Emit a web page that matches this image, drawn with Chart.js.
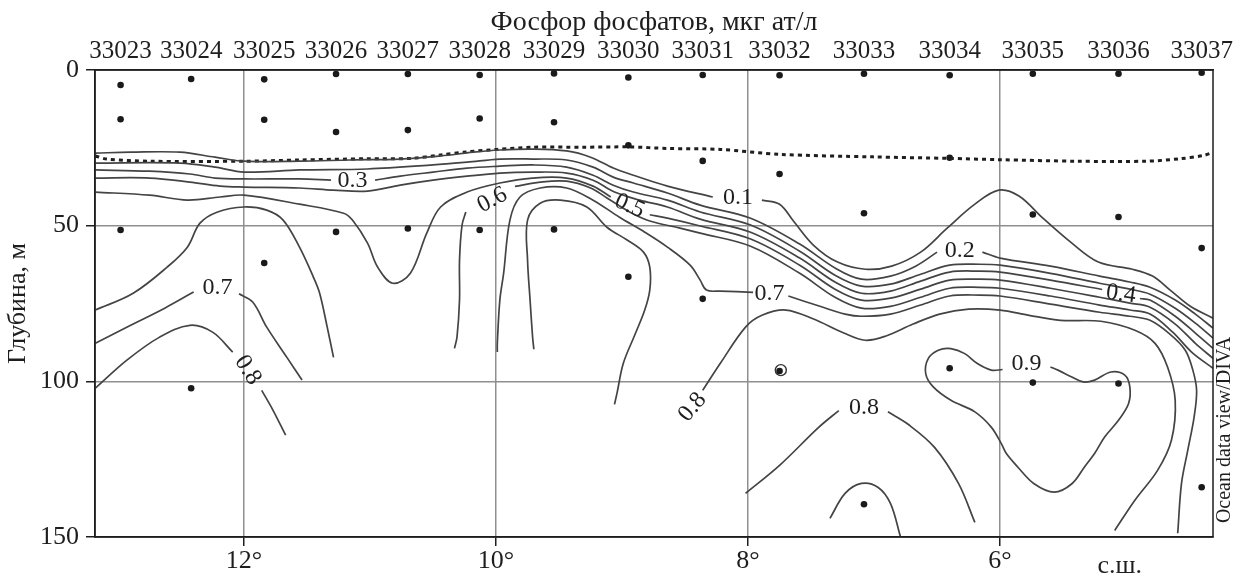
<!DOCTYPE html>
<html>
<head>
<meta charset="utf-8">
<title>Фосфор фосфатов</title>
<script src="https://cdn.jsdelivr.net/npm/chart.js@4.4.1/dist/chart.umd.min.js"></script>
<style>
  body { margin: 0; background: #fff; }
  #wrap { width: 1238px; height: 578px; }
</style>
</head>
<body>
<div id="wrap"><canvas id="section" width="1238" height="578"></canvas></div>
<script>
  // stations along the section (top axis) and sampling depths, m
  const stationNames = ['33023','33024','33025','33026','33027','33028','33029','33030','33031','33032','33033','33034','33035','33036','33037'];
  const stationLat = [12.98, 12.42, 11.84, 11.27, 10.70, 10.13, 9.54, 8.95, 8.36, 7.75, 7.08, 6.40, 5.74, 5.06, 4.40];
  const sampleDepth = [[4.8,15.8,51.4],[2.9,102.2],[3.0,16.0,62.0],[1.3,19.9,52.0],[1.3,19.3,50.9],[1.6,15.6,51.4],[1.1,16.8,51.2],[2.4,24.2,66.4],[1.6,29.2,73.5],[1.7,33.4,96.7],[1.2,46.0,139.5],[1.7,28.2,95.8],[1.2,46.4,100.4],[1.2,47.2,100.7],[0.9,57.2,134.0]];

  const latTicks = [12, 10, 8, 6];
  const depthTicks = [0, 50, 100, 150];

  // dotted line (upper mixed layer), [lat, depth]
  const mixedLayer = [[13.18,27.6],[13.09,28.6],[12.75,29.3],[12.00,29.3],[11.56,28.9],[11.02,28.5],[10.68,28.4],[10.44,27.3],[10.23,26.3],[9.99,25.5],[9.71,24.8],[9.31,24.8],[8.94,24.7],[8.64,25.2],[8.22,25.5],[7.75,27.1],[7.01,27.9],[6.40,28.4],[6.01,28.8],[5.39,29.3],[4.84,29.3],[4.57,28.5],[4.38,27.4],[4.31,26.4]];

  // isolines, [lat, depth]; split where a label sits on the line
  const iso01a = [[13.18,26.7],[12.90,26.4],[12.51,26.4],[12.23,28.0],[12.00,29.3],[11.56,29.3],[11.16,28.9],[10.76,28.6],[10.44,27.6],[10.18,26.4],[9.97,25.7],[9.71,25.4],[9.44,26.0],[9.25,28.0],[9.07,31.5],[8.91,33.8],[8.64,37.3],[8.28,40.8]];
  const iso01b = [[7.89,41.8],[7.75,43.1],[7.64,48.5],[7.48,56.3],[7.29,61.7],[7.07,64.0],[6.86,63.0],[6.63,58.5],[6.42,50.8],[6.20,43.1],[6.01,38.6],[5.85,40.5],[5.66,47.6],[5.44,55.3],[5.22,61.7],[4.95,64.0],[4.79,66.2],[4.65,70.7],[4.49,75.9],[4.31,79.7]];
  const iso02a = [[13.18,29.9],[12.51,29.9],[12.23,31.2],[12.00,32.8],[11.56,32.1],[11.02,31.8],[10.50,30.5],[10.23,29.6],[9.97,28.6],[9.71,28.6],[9.44,28.9],[9.23,31.2],[9.07,34.4],[8.91,36.3],[8.64,39.5],[8.38,43.4],[7.98,47.6],[7.59,55.9],[7.31,63.6],[7.10,67.2],[6.87,66.2],[6.67,63.0],[6.50,58.5]];
  const iso02b = [[6.14,58.5],[6.00,60.4],[5.60,63.0],[5.21,66.2],[4.97,68.1],[4.81,69.8],[4.61,73.9],[4.45,78.4],[4.31,82.9]];
  const iso03a = [[13.18,32.1],[12.75,32.5],[12.43,33.4],[12.23,34.7],[12.00,35.0],[11.56,35.0],[11.31,35.4]];
  const iso03b = [[10.96,35.4],[10.76,34.1],[10.50,32.8],[10.23,31.5],[9.97,30.9],[9.71,30.5],[9.44,31.2],[9.23,33.8],[9.07,37.0],[8.91,39.2],[8.64,41.8],[8.38,45.6],[7.98,49.8],[7.59,58.2],[7.31,65.9],[7.10,69.4],[6.87,68.8],[6.63,65.6],[6.40,62.7],[6.16,62.4],[6.00,62.7],[5.60,65.3],[5.21,68.5],[4.97,70.4],[4.81,72.0],[4.61,76.5],[4.45,81.3],[4.31,86.1]];
  const iso04a = [[13.18,34.7],[12.75,34.7],[12.43,36.0],[12.19,37.3],[12.00,37.6],[11.56,37.9],[11.29,38.6],[11.02,38.9],[10.76,37.0],[10.50,35.4],[10.23,34.1],[9.97,33.1],[9.71,32.8],[9.44,33.1],[9.23,35.4],[9.06,39.2],[8.86,41.8],[8.64,44.0],[8.38,47.9],[7.98,52.1],[7.59,60.4],[7.31,68.1],[7.10,71.7],[6.87,71.0],[6.63,67.8],[6.40,64.9],[6.16,64.6],[6.00,64.9],[5.60,67.5],[5.19,70.5]];
  const iso04b = [[4.89,73.4],[4.81,73.9],[4.61,79.1],[4.45,84.5],[4.31,89.4]];
  const iso05a = [[13.18,39.2],[12.75,40.2],[12.45,41.8],[12.19,40.8],[12.00,40.2],[11.56,43.1],[11.21,46.0],[11.14,48.2],[11.02,55.6],[10.94,63.3],[10.82,68.5],[10.68,65.3],[10.55,52.4],[10.44,44.0],[10.23,39.2],[9.97,36.3],[9.71,34.7],[9.44,34.7],[9.23,37.3],[9.09,40.8]];
  const iso05b = [[8.78,46.5],[8.64,47.6],[8.38,50.1],[7.98,54.3],[7.59,62.7],[7.31,70.4],[7.10,73.9],[6.87,73.3],[6.63,70.4],[6.40,67.5],[6.16,67.2],[6.00,67.5],[5.60,70.1],[5.21,73.0],[4.97,74.9],[4.81,76.2],[4.61,81.6],[4.45,87.8],[4.31,92.6]];
  const iso06dome = [[13.18,77.1],[12.88,71.7],[12.61,63.3],[12.45,56.9],[12.35,49.2],[12.21,45.6],[12.00,44.0],[11.82,45.0],[11.69,48.2],[11.56,56.9],[11.45,66.5],[11.40,71.7],[11.34,82.6],[11.29,92.3]];
  const iso06a = [[10.33,89.4],[10.31,85.8],[10.29,73.9],[10.29,61.1],[10.27,49.8],[10.24,45.6]];
  const iso06b = [[9.85,37.4],[9.65,36.0],[9.44,35.7],[9.25,37.9],[9.12,41.1],[8.94,45.6],[8.78,48.5],[8.54,50.8],[8.38,52.4],[7.98,56.6],[7.59,65.3],[7.31,73.0],[7.10,76.5],[6.87,75.9],[6.63,73.0],[6.40,70.1],[6.16,69.8],[6.00,70.1],[5.60,72.6],[5.21,75.5],[4.97,77.1],[4.81,78.4],[4.63,84.2],[4.48,90.6],[4.31,95.8]];
  const iso07La = [[13.18,87.8],[12.90,82.0],[12.63,76.5],[12.40,71.3]];
  const iso07Lb = [[12.04,71.9],[11.93,74.6],[11.82,82.6],[11.66,92.3],[11.54,99.6]];
  const iso07a = [[9.99,90.6],[9.99,87.8],[9.97,73.9],[9.94,65.3],[9.89,48.2],[9.81,40.8],[9.65,37.9],[9.44,37.9],[9.23,41.8],[9.02,47.3],[8.82,52.1],[8.64,56.9],[8.46,62.7],[8.38,67.5],[8.33,70.7],[8.22,71.0],[7.96,71.4]];
  const iso07b = [[7.68,72.6],[7.43,75.9],[7.23,78.4],[7.10,79.1],[6.87,78.4],[6.63,75.5],[6.40,72.6],[6.16,72.3],[6.00,72.6],[5.60,75.2],[5.21,77.8],[4.97,79.1],[4.81,80.4],[4.65,84.9],[4.53,90.0],[4.47,96.4],[4.44,102.9],[4.46,111.5],[4.51,122.1],[4.56,132.8],[4.59,148.8]];
  const iso08La = [[13.18,102.2],[12.93,93.2],[12.67,85.8],[12.43,82.0],[12.25,84.2],[12.09,90.6]];
  const iso08Lb = [[11.86,102.9],[11.77,109.3],[11.67,117.3]];
  const iso08arch = [[9.70,89.7],[9.71,85.8],[9.73,73.9],[9.75,61.1],[9.75,48.2],[9.65,42.8],[9.49,41.8],[9.28,44.0],[9.12,50.5],[8.96,54.6],[8.83,58.5],[8.78,63.3],[8.78,70.7],[8.82,77.1],[8.90,85.2],[8.99,94.2],[9.04,103.8],[9.06,107.4]];
  const iso08main = [[8.36,102.9],[8.22,94.2],[8.02,82.6],[7.89,78.8],[7.70,77.1],[7.48,80.0],[7.24,84.5],[7.07,86.8],[6.91,85.5],[6.69,81.6],[6.48,78.4],[6.25,76.8],[6.00,77.1],[5.77,78.8],[5.52,80.4],[5.20,80.7],[4.93,83.6],[4.77,87.8],[4.67,95.5],[4.61,106.1],[4.64,118.9],[4.75,128.6],[4.93,138.2],[5.09,147.9]];
  const iso08botA = [[8.02,136.0],[7.75,127.0],[7.44,114.8],[7.28,109.4]];
  const iso08botB = [[6.89,109.8],[6.73,113.8],[6.52,121.2],[6.33,132.8],[6.20,145.3]];
  const iso08cap = [[7.35,144.0],[7.23,136.0],[7.10,132.8],[6.97,134.0],[6.87,139.2],[6.79,150.0]];
  const iso09 = [[5.98,96.2],[6.07,96.4],[6.18,94.3],[6.28,91.1],[6.39,89.5],[6.49,90.0],[6.57,92.7],[6.59,97.5],[6.53,101.8],[6.39,106.1],[6.20,109.8],[6.07,114.7],[5.99,120.0],[5.95,123.2],[5.86,127.5],[5.73,132.9],[5.57,135.6],[5.43,132.9],[5.33,127.5],[5.25,123.2],[5.17,117.9],[5.06,112.5],[4.98,107.1],[4.97,101.8],[5.01,98.0],[5.12,97.0],[5.25,99.6],[5.34,100.2],[5.43,98.6],[5.54,96.4],[5.60,95.4]];
  const ringAt = [[7.74,96.4]];

  // isoline labels
  const labelText  = ['0.3', '0.6', '0.5', '0.1', '0.7', '0.2', '0.4', '0.7', '0.8', '0.8', '0.9', '0.8'];
  const labelLat   = [11.14, 10.03, 8.94, 8.08, 7.83, 6.32, 5.04, 12.21, 11.97, 8.44, 5.79, 7.08];
  const labelDepth = [35.7, 41.8, 43.7, 41.1, 71.7, 57.9, 72.0, 69.8, 96.4, 108.3, 94.3, 108.6];
  const labelAngle = [0, -28, 24, 0, 0, 0, 8, 0, 58, -50, 0, 0];

  const isolines = [iso01a, iso01b, iso02a, iso02b, iso03a, iso03b, iso04a, iso04b, iso05a, iso05b,
    iso06dome, iso06a, iso06b, iso07La, iso07Lb, iso07a, iso07b, iso08La, iso08Lb, iso08arch,
    iso08main, iso08botA, iso08botB, iso08cap, iso09];

  const SERIF = '"Liberation Serif", "Times New Roman", serif';
  const INK = '#1e1e1e';
  Chart.defaults.font.family = SERIF;
  Chart.defaults.color = INK;

  const toXY = pts => pts.map(p => ({x: p[0], y: p[1]}));

  var datasets = isolines.map(function (pts) {
    return { data: toXY(pts), showLine: true, pointRadius: 0, borderColor: '#444', borderWidth: 1.7, tension: 0.35 };
  });
  datasets.push({ data: toXY(mixedLayer), showLine: true, pointRadius: 0, borderColor: INK, borderWidth: 3, borderDash: [4, 4], tension: 0.3 });

  var samples = [];
  for (var i = 0; i < stationLat.length; i++) {
    for (var j = 0; j < sampleDepth[i].length; j++) {
      samples.push({x: stationLat[i], y: sampleDepth[i][j]});
    }
  }
  datasets.push({ data: samples, showLine: false, pointRadius: 3.3, pointBackgroundColor: '#1a1a1a', pointBorderWidth: 0 });
  datasets.push({ data: toXY(ringAt), showLine: false, pointRadius: 5.5, pointBackgroundColor: 'rgba(0,0,0,0)', pointBorderColor: '#333', pointBorderWidth: 1.4 });

  const sectionDecor = {
    id: 'sectionDecor',
    afterDatasetsDraw(chart) {
      const ctx = chart.ctx, a = chart.chartArea, x = chart.scales.x, y = chart.scales.y;
      ctx.save();
      ctx.strokeStyle = INK;
      ctx.lineWidth = 1.5;
      ctx.strokeRect(a.left, a.top, a.right - a.left, a.bottom - a.top);

      ctx.fillStyle = INK;
      ctx.textAlign = 'center';
      ctx.textBaseline = 'middle';
      ctx.font = '24px ' + SERIF;
      for (var k = 0; k < labelText.length; k++) {
        ctx.save();
        ctx.translate(x.getPixelForValue(labelLat[k]), y.getPixelForValue(labelDepth[k]));
        ctx.rotate(labelAngle[k] * Math.PI / 180);
        ctx.fillText(labelText[k], 0, 0);
        ctx.restore();
      }

      ctx.font = '26px ' + SERIF;
      ctx.fillText('с.ш.', x.getPixelForValue(5.05), a.bottom + 29);

      ctx.font = '20px ' + SERIF;
      ctx.translate(a.right + 12, a.bottom - 107);
      ctx.rotate(-Math.PI / 2);
      ctx.fillText('Ocean data view/DIVA', 0, 0);
      ctx.restore();
    }
  };

  const gridGray = '#8f8f8f';

  new Chart(document.getElementById('section'), {
    type: 'scatter',
    data: { datasets: datasets },
    options: {
      responsive: false,
      animation: false,
      devicePixelRatio: 1,
      layout: { padding: { left: 0, right: 25, top: 0, bottom: 0 } },
      plugins: { legend: { display: false }, tooltip: { enabled: false } },
      scales: {
        x: {
          type: 'linear', position: 'bottom', reverse: true, min: 4.31, max: 13.183,
          afterBuildTicks: s => { s.ticks = latTicks.map(v => ({value: v})); },
          afterFit: s => { s.height = 41; },
          ticks: { callback: v => v + '°', font: {size: 26}, color: INK, padding: 0, maxRotation: 0, autoSkip: false },
          grid: { color: gridGray, lineWidth: 1.5, tickLength: 9, tickColor: INK, tickWidth: 1.5 },
          border: { display: true, color: INK, width: 1.5 }
        },
        x2: {
          type: 'linear', position: 'top', reverse: true, min: 4.31, max: 13.183,
          afterBuildTicks: s => { s.ticks = stationLat.map(v => ({value: v})); },
          afterFit: s => { s.height = 70; },
          ticks: { callback: (v, i) => stationNames[i], font: {size: 25}, color: INK, padding: 4, maxRotation: 0, autoSkip: false },
          grid: { display: false, drawTicks: false },
          border: { display: true, color: INK, width: 1.5 },
          title: { display: true, text: 'Фосфор фосфатов, мкг ат/л', font: {size: 28}, color: INK, padding: {top: 6, bottom: 0} }
        },
        y: {
          type: 'linear', reverse: true, min: 0, max: 150,
          afterBuildTicks: s => { s.ticks = depthTicks.map(v => ({value: v})); },
          afterFit: s => { s.width = 95; },
          ticks: { font: {size: 26}, color: INK, padding: 7 },
          grid: {
            color: c => (c.tick && (c.tick.value === 0 || c.tick.value === 150)) ? 'rgba(0,0,0,0)' : gridGray,
            lineWidth: 1.5, tickLength: 9, tickColor: INK, tickWidth: 1.5
          },
          border: { display: true, color: INK, width: 1.5 },
          title: { display: true, text: 'Глубина, м', font: {size: 26}, color: INK, padding: {top: 3, bottom: 0} }
        }
      }
    },
    plugins: [sectionDecor]
  });
</script>
</body>
</html>
